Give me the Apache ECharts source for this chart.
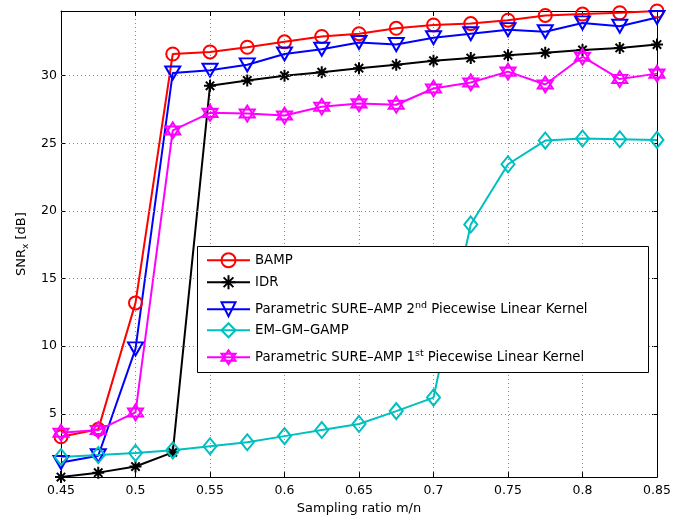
<!DOCTYPE html>
<html>
<head>
<meta charset="utf-8">
<script src="https://cdn.jsdelivr.net/npm/echarts@6/dist/echarts.min.js"></script>
<style>html,body{margin:0;padding:0;background:#fff}#c{width:682px;height:520px}</style>
</head>
<body>
<div id="c"></div>
<script>
const xValues = [0.45,0.475,0.5,0.525,0.55,0.575,0.6,0.625,0.65,0.675,0.7,0.725,0.75,0.775,0.8,0.825,0.85];
const bamp = [3.3,3.85,13.2,31.6,31.75,32.1,32.5,32.9,33.1,33.5,33.75,33.85,34.1,34.45,34.55,34.65,34.78];
const idr = [0.32,0.65,1.1,2.15,29.25,29.65,30.0,30.25,30.55,30.8,31.1,31.3,31.5,31.7,31.9,32.05,32.3];
const sure2 = [1.4,1.9,9.8,30.2,30.4,30.8,31.6,31.95,32.45,32.3,32.8,33.1,33.4,33.25,33.9,33.65,34.3];
const emgm = [1.8,1.95,2.1,2.3,2.6,2.9,3.35,3.8,4.25,5.2,6.2,19.0,23.45,25.2,25.35,25.3,25.25];
const sure1 = [3.6,3.8,5.1,25.95,27.25,27.2,27.05,27.7,27.95,27.85,29.05,29.5,30.3,29.35,31.4,29.75,30.15];
const yTicks = [5,10,15,20,25,30];
const seriesNames = ['BAMP','IDR','Parametric SURE–AMP 2nd Piecewise Linear Kernel','EM–GM–GAMP','Parametric SURE–AMP 1st Piecewise Linear Kernel'];

const FONT = 'DejaVu Sans';
const pair = arr => xValues.map((x,i)=>[x,arr[i]]);
const asterisk = 'path://M0,-1L0,1M-1,0L1,0M-0.7,-0.7L0.7,0.7M-0.7,0.7L0.7,-0.7';
const hexagram = 'path://M0,-1L0.866,0.5L-0.866,0.5ZM0,1L0.866,-0.5L-0.866,-0.5Z';
const triDown = 'path://M-1,-0.8L1,-0.8L0,0.9Z';

function mk(name, data, color, symbol, size){
  return {
    name, type:'line', data: pair(data), clip:false, z:3,
    symbol, symbolSize:size,
    lineStyle:{color, width:2},
    itemStyle:{color:'transparent', borderColor:color, borderWidth:2},
    emphasis:{disabled:true}
  };
}

const legendCenters = [261, 283, 309, 331, 357];
const legendFormatter = n => n.replace(' 2nd ', ' 2{sup|nd} ').replace(' 1st ', ' 1{sup|st} ');

const chart = echarts.init(document.getElementById('c'), null, {renderer:'canvas'});
const gridStyle = {type:[1,3], color:'#8a8a8a', width:1};
chart.setOption({
  animation:false,
  backgroundColor:'#fff',
  textStyle:{fontFamily:FONT},
  grid:{left:61, top:11, width:596, height:469, containLabel:false},
  xAxis:[{
    type:'value', min:0.45, max:0.85, interval:0.05, position:'bottom',
    name:'Sampling ratio m/n', nameLocation:'middle', nameGap:22,
    nameTextStyle:{fontFamily:FONT, fontSize:13, color:'#000'},
    axisLine:{show:true, onZero:false, lineStyle:{color:'#000', width:1}},
    axisTick:{show:true, inside:true, length:5, lineStyle:{color:'#000'}},
    axisLabel:{fontFamily:FONT, fontSize:12.5, color:'#000', margin:7, formatter:v=>String(parseFloat(v.toFixed(3)))},
    splitLine:{show:true, lineStyle:gridStyle}
  },{
    type:'value', min:0.45, max:0.85, interval:0.05, position:'top',
    axisLine:{show:true, onZero:false, lineStyle:{color:'#000', width:1}},
    axisTick:{show:true, inside:true, length:5, lineStyle:{color:'#000'}},
    axisLabel:{show:false}, splitLine:{show:false}
  }],
  yAxis:[{
    type:'value', min:0.32, max:34.78, position:'left',
    name:'SNR{sub|x} [dB]', nameLocation:'middle', nameGap:33, nameRotate:90,
    nameTextStyle:{fontFamily:FONT, fontSize:13, color:'#000',
      rich:{sub:{fontFamily:FONT, fontSize:9, padding:[0,0,-8,0], color:'#000'}}},
    axisLine:{show:true, onZero:false, lineStyle:{color:'#000', width:1}},
    axisTick:{show:true, inside:true, length:5, customValues:yTicks, lineStyle:{color:'#000'}},
    axisLabel:{fontFamily:FONT, fontSize:12.5, color:'#000', margin:4, customValues:yTicks},
    splitLine:{show:false}
  },{
    type:'value', min:0.32, max:34.78, position:'right',
    axisLine:{show:true, onZero:false, lineStyle:{color:'#000', width:1}},
    axisTick:{show:true, inside:true, length:5, customValues:yTicks, lineStyle:{color:'#000'}},
    axisLabel:{show:false, customValues:yTicks}, splitLine:{show:false}
  }],
  graphic:[{type:'rect', z:15, shape:{x:197.5, y:246.5, width:451, height:126},
    style:{fill:'#fff', stroke:'#000', lineWidth:1}}],
  legend: seriesNames.map((n,i)=>({
    data:[n], orient:'vertical', left:206, top:legendCenters[i]-8.75, padding:0,
    itemWidth:43, itemHeight:17.5, z:20, selectedMode:false,
    formatter:legendFormatter,
    textStyle:{fontFamily:FONT, fontSize:13.3, color:'#000',
      rich:{sup:{fontFamily:FONT, fontSize:9.5, padding:[0,0,8,0], color:'#000'}}}
  })),
  series:[
    {name:'grid', type:'line', data:[], z:1, silent:true,
      markLine:{silent:true, symbol:'none', label:{show:false}, lineStyle:gridStyle, emphasis:{disabled:true},
        data: yTicks.map(v=>({yAxis:v}))}},
    mk(seriesNames[0], bamp, '#ff0000', 'circle', 13),
    mk(seriesNames[1], idr, '#000000', asterisk, 12),
    mk(seriesNames[2], sure2, '#0000ff', triDown, [15,13]),
    mk(seriesNames[3], emgm, '#00bfbf', 'diamond', [13,16]),
    mk(seriesNames[4], sure1, '#ff00ff', hexagram, [15,16])
  ]
});
</script>
</body>
</html>
